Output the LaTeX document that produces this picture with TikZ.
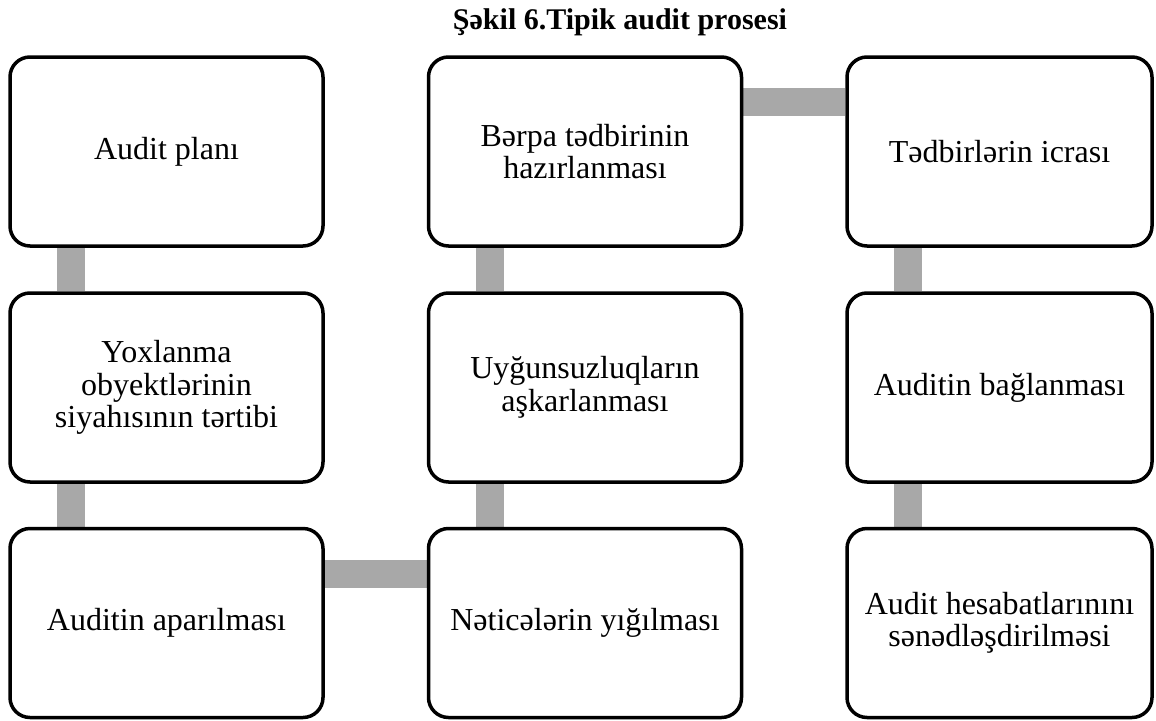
\documentclass[tikz,border=0pt]{standalone}
\usepackage{fontspec}
\setmainfont{Liberation Serif}
\usetikzlibrary{backgrounds}
\definecolor{linkgray}{RGB}{168,168,168}
\begin{document}
\begin{tikzpicture}[x=1pt, y=-1pt,
    stepbox/.style={draw, rounded corners=20pt, line width=3.5pt, minimum width=313pt, minimum height=189pt, align=center, font=\fontsize{32}{32.5}\selectfont},
    link/.style={draw=linkgray, line width=28pt}]
    \useasboundingbox (0,0) rectangle (1156,720);
    \node at (620,22) [font=\bfseries\fontsize{30}{31}\selectfont] (title) {Şəkil 6.Tipik audit prosesi};
    \node at (166.5,151.5) [stepbox] (plan) {Audit planı};
    \node at (585,151.5) [stepbox] (berpa) {Bərpa tədbirinin\\hazırlanması};
    \node at (999.5,151.5) [stepbox, minimum width=305pt] (icra) {Tədbirlərin icrası};
    \node at (166.5,387.5) [stepbox] (siyahi) {Yoxlanma\\obyektlərinin\\siyahısının tərtibi};
    \node at (585,387.5) [stepbox] (uygun) {Uyğunsuzluqların\\aşkarlanması};
    \node at (999.5,387.5) [stepbox, minimum width=305pt] (bagla) {Auditin bağlanması};
    \node at (166.5,623) [stepbox] (apar) {Auditin aparılması};
    \node at (585,623) [stepbox] (netice) {Nəticələrin yığılması};
    \node at (999.5,623) [stepbox, minimum width=305pt] (hesab) {Audit hesabatlarınını\\sənədləşdirilməsi};
    \begin{scope}[on background layer]
        \draw[link] ([xshift=63pt]plan.south west) -- ([xshift=63pt]siyahi.north west);
        \draw[link] ([xshift=63pt]siyahi.south west) -- ([xshift=63pt]apar.north west);
        \draw[link] ([yshift=-47pt]apar.north east) -- ([yshift=-47pt]netice.north west);
        \draw[link] ([xshift=63pt]netice.north west) -- ([xshift=63pt]uygun.south west);
        \draw[link] ([xshift=63pt]uygun.north west) -- ([xshift=63pt]berpa.south west);
        \draw[link] ([yshift=-47pt]berpa.north east) -- ([yshift=-47pt]icra.north west);
        \draw[link] ([xshift=63pt]icra.south west) -- ([xshift=63pt]bagla.north west);
        \draw[link] ([xshift=63pt]bagla.south west) -- ([xshift=63pt]hesab.north west);
    \end{scope}
\end{tikzpicture}
\end{document}
